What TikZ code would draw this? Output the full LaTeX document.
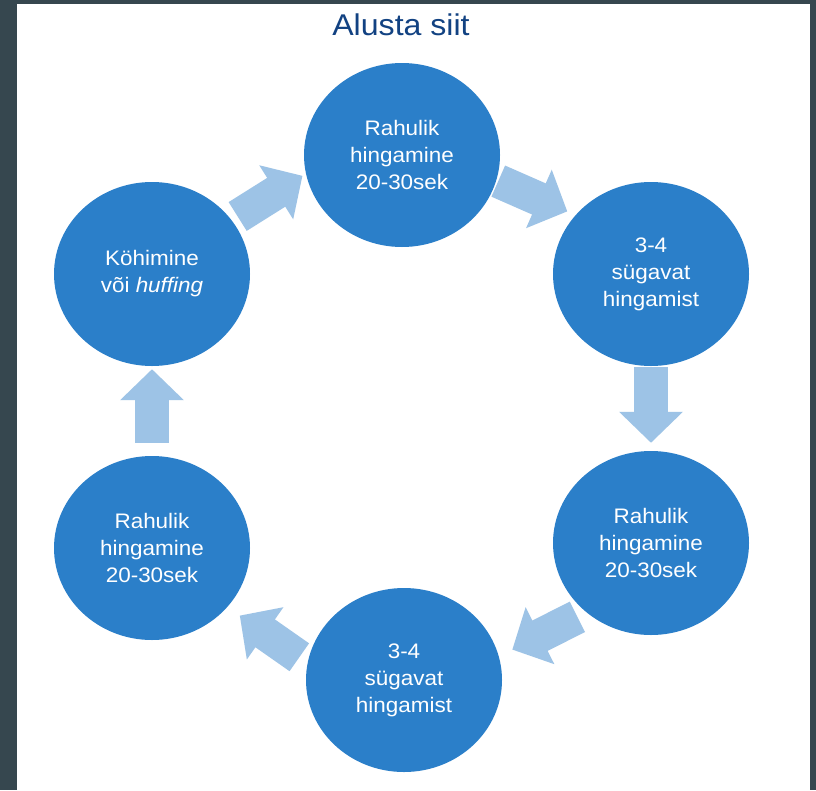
\documentclass[tikz,border=0pt]{standalone}
\usepackage{fontspec}
\setmainfont{Liberation Sans}[FakeStretch=1.07]
\usetikzlibrary{shapes.geometric,arrows.meta}
\definecolor{frame}{RGB}{54,71,79}
\definecolor{stepblue}{RGB}{43,127,201}
\definecolor{arrowblue}{RGB}{157,195,230}
\definecolor{titleblue}{RGB}{18,66,130}

\begin{document}
\begin{tikzpicture}[x=1pt,y=-1pt,
    stepnode/.style={ellipse, fill=stepblue, minimum width=196pt, minimum height=184pt, inner sep=0pt,
        text=white, align=center, font=\fontsize{21}{27}\selectfont},
    cyclearrow/.style={draw=arrowblue, line width=34pt, -{Triangle[length=31pt,width=62pt]}}]
    \useasboundingbox (0,0) rectangle (816,790);
    \fill[frame] (0,0) rectangle (816,790);
    \fill[white] (17,4) rectangle (810,790);
    \node[text=titleblue, font=\fontsize{30}{36}\selectfont] (title) at (401,25) {Alusta siit};
    \node[stepnode] (top) at (402,155) {Rahulik\\hingamine\\20-30sek};
    \node[stepnode] (ru) at (651,274) {3-4\\sügavat\\hingamist};
    \node[stepnode] (rl) at (651,543) {Rahulik\\hingamine\\20-30sek};
    \node[stepnode] (bot) at (404,680) {3-4\\sügavat\\hingamist};
    \node[stepnode] (ll) at (152,548) {Rahulik\\hingamine\\20-30sek};
    \node[stepnode] (lu) at (152,274) {Köhimine\\või \textit{huffing}};
    \draw[cyclearrow, shorten <=7pt, shorten >=4pt] (lu.34) -- (top.191);
    \draw[cyclearrow, shorten <=2pt, shorten >=9pt] (top.-15) -- (ru.142);
    \draw[cyclearrow, shorten <=1pt, shorten >=8pt] (ru.south) -- (rl.north);
    \draw[cyclearrow, shorten <=10pt, shorten >=15pt] (rl.227) -- (bot.14);
    \draw[cyclearrow, shorten <=10pt, shorten >=15pt] (bot.170) -- (ll.-38);
    \draw[cyclearrow, shorten <=13pt, shorten >=3pt] (ll.north) -- (lu.south);
\end{tikzpicture}
\end{document}
